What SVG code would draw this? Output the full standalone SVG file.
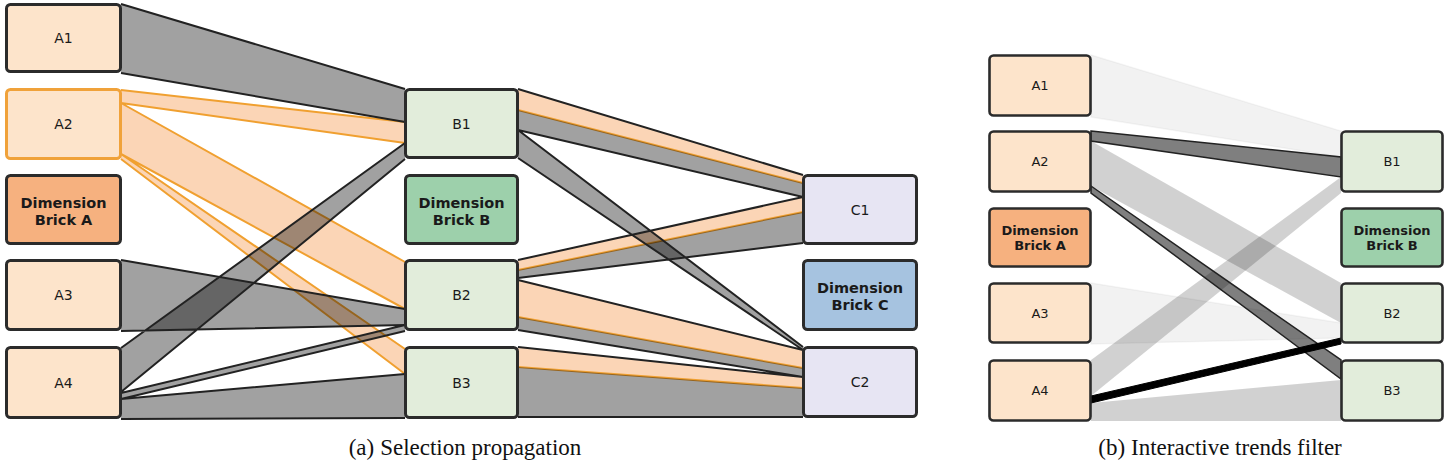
<svg xmlns="http://www.w3.org/2000/svg" width="1448" height="465" viewBox="0 0 1448 465">
<style>
.bg{fill:#ffffff}
.g{fill:#000;fill-opacity:.37;stroke:none}
.o{fill:#f7b27a;fill-opacity:.55;stroke:none}
.gl{fill:none;stroke:#222;stroke-width:2}
.ol{fill:none;stroke:#f0a030;stroke-width:2}
.bf{fill:#000;fill-opacity:.05;stroke:#000;stroke-opacity:.04;stroke-width:1.5}
.bl{fill:#000;fill-opacity:.18;stroke:none}
.bd{fill:#000;fill-opacity:.5;stroke:#222;stroke-width:1.5}
.bk{fill:#000;stroke:#000;stroke-width:1}
.n rect{stroke:#2b2b2b;stroke-width:3}
.nb rect{stroke:#2b2b2b;stroke-width:2.6}
.a rect{fill:#fde4cb}
.sel rect{stroke:#f0a23a}
.da rect{fill:#f6b17f}
.b rect{fill:#e2eddb}
.db rect{fill:#9dd0ab}
.c rect{fill:#e7e5f3}
.dc rect{fill:#a6c3e0}
.n text{font-family:"DejaVu Sans","Liberation Sans",sans-serif;font-size:14px;fill:#1a1a1a;text-anchor:middle}
.nb text{font-family:"DejaVu Sans","Liberation Sans",sans-serif;font-size:13px;fill:#1a1a1a;text-anchor:middle}
text.bold{font-weight:bold;font-size:14.5px}
.nb text.bold{font-size:13px}
.cap{font-family:"Liberation Serif","Times New Roman",serif;font-size:23px;fill:#111;text-anchor:middle}
</style>
<rect class="bg" x="0" y="0" width="1448" height="465"/>

<g id="connectors">
  <!-- panel (a): orange selected ribbons from A2 -->
  <polygon class="o" points="121,90 405,122 405,143 121,103"/>
  <polygon class="o" points="121,103 405,262 405,309 121,154"/>
  <polygon class="o" points="121,154 405,349 405,374 121,159"/>
  <!-- orange portions of B->C ribbons -->
  <polygon class="o" points="518,89 803,175 803,183 518,110"/>
  <polygon class="o" points="518,260 803,197 803,212 518,270"/>
  <polygon class="o" points="518,280 803,350 803,368 518,317"/>
  <polygon class="o" points="518,347 803,377 803,388 518,367"/>
  <path class="ol" d="M121,90 L405,122 M121,103 L405,143 M121,103 L405,262 M121,154 L405,309 M121,154 L405,349 M121,159 L405,374"/>
  <path class="ol" d="M518,110 L803,183 M518,270 L803,212 M518,317 L803,368 M518,367 L803,388"/>
  <!-- gray ribbons -->
  <polygon class="g" points="121,4 405,89 405,122 121,73"/>
  <polygon class="g" points="121,260 405,309 405,325 121,331"/>
  <polygon class="g" points="121,348 405,143 405,159 121,392"/>
  <polygon class="g" points="121,393 405,325 405,331 121,399"/>
  <polygon class="g" points="121,399 405,374 405,418 121,419"/>
  <polygon class="g" points="518,110 803,183 803,197 518,130"/>
  <polygon class="g" points="518,130 803,347 803,350 518,158"/>
  <polygon class="g" points="518,270 803,212 803,243 518,278"/>
  <polygon class="g" points="518,317 803,368 803,377 518,330"/>
  <polygon class="g" points="518,367 803,388 803,417 518,417"/>
  <path class="gl" d="M121,4 L405,89 M121,73 L405,122 M121,260 L405,309 M121,331 L405,325 M121,348 L405,143 M121,392 L405,159 M121,393 L405,325 M121,399 L405,331 M121,399 L405,374 M121,419 L405,418"/>
  <path class="gl" d="M518,89 L803,175 M518,130 L803,197 M518,130 L803,347 M518,158 L803,350 M518,260 L803,197 M518,278 L803,243 M518,280 L803,350 M518,330 L803,377 M518,347 L803,377 M518,417 L803,417"/>

  <!-- panel (b) -->
  <polygon class="bf" points="1091,55 1341,131 1341,157 1091,117"/>
  <polygon class="bf" points="1091,283 1341,323 1341,338 1091,344"/>
  <polygon class="bl" points="1091,141 1341,283 1341,323 1091,186"/>
  <polygon class="bl" points="1091,360 1341,177 1341,193 1091,396"/>
  <polygon class="bl" points="1091,403 1341,380 1341,421 1091,421"/>
  <polygon class="bd" points="1091,131 1341,157 1341,177 1091,141"/>
  <polygon class="bd" points="1091,186 1341,360 1341,379 1091,193"/>
  <polygon class="bk" points="1091,396 1341,338 1341,344 1091,403"/>
</g>

<g id="A1" class="n a"><rect x="6.5" y="4.5" width="114" height="67" rx="4"/><text x="63.5" y="43">A1</text></g>
<g id="A2" class="n a sel"><rect x="6.5" y="89.5" width="114" height="69" rx="4"/><text x="63.5" y="129">A2</text></g>
<g id="DimA" class="n da"><rect x="6.5" y="175.5" width="114" height="68" rx="4"/><text class="bold" x="63.5" y="208">Dimension</text><text class="bold" x="63.5" y="225">Brick A</text></g>
<g id="A3" class="n a"><rect x="6.5" y="260.5" width="114" height="69" rx="4"/><text x="63.5" y="300">A3</text></g>
<g id="A4" class="n a"><rect x="6.5" y="347.5" width="114" height="70" rx="4"/><text x="63.5" y="388">A4</text></g>

<g id="B1" class="n b"><rect x="405.5" y="89.5" width="112" height="68" rx="4"/><text x="461.5" y="129">B1</text></g>
<g id="DimB" class="n db"><rect x="405.5" y="175.5" width="112" height="68" rx="4"/><text class="bold" x="461.5" y="208">Dimension</text><text class="bold" x="461.5" y="225">Brick B</text></g>
<g id="B2" class="n b"><rect x="405.5" y="260.5" width="112" height="69" rx="4"/><text x="461.5" y="300">B2</text></g>
<g id="B3" class="n b"><rect x="405.5" y="347.5" width="112" height="70" rx="4"/><text x="461.5" y="388">B3</text></g>

<g id="C1" class="n c"><rect x="803.5" y="175.5" width="113" height="68" rx="4"/><text x="860" y="215">C1</text></g>
<g id="DimC" class="n dc"><rect x="803.5" y="260.5" width="113" height="69" rx="4"/><text class="bold" x="860" y="293">Dimension</text><text class="bold" x="860" y="310">Brick C</text></g>
<g id="C2" class="n c"><rect x="803.5" y="347.5" width="113" height="69" rx="4"/><text x="860" y="387">C2</text></g>

<g id="bA1" class="nb a"><rect x="989.5" y="55.5" width="101" height="60" rx="4"/><text x="1040" y="90">A1</text></g>
<g id="bA2" class="nb a"><rect x="989.5" y="131.5" width="101" height="60" rx="4"/><text x="1040" y="166">A2</text></g>
<g id="bDimA" class="nb da"><rect x="989.5" y="208.5" width="101" height="58" rx="4"/><text class="bold" x="1040" y="235">Dimension</text><text class="bold" x="1040" y="250">Brick A</text></g>
<g id="bA3" class="nb a"><rect x="989.5" y="283.5" width="101" height="59" rx="4"/><text x="1040" y="318">A3</text></g>
<g id="bA4" class="nb a"><rect x="989.5" y="360.5" width="101" height="60" rx="4"/><text x="1040" y="395">A4</text></g>

<g id="bB1" class="nb b"><rect x="1341.5" y="131.5" width="101" height="60" rx="4"/><text x="1392" y="166">B1</text></g>
<g id="bDimB" class="nb db"><rect x="1341.5" y="208.5" width="101" height="58" rx="4"/><text class="bold" x="1392" y="235">Dimension</text><text class="bold" x="1392" y="250">Brick B</text></g>
<g id="bB2" class="nb b"><rect x="1341.5" y="283.5" width="101" height="59" rx="4"/><text x="1392" y="318">B2</text></g>
<g id="bB3" class="nb b"><rect x="1341.5" y="360.5" width="101" height="60" rx="4"/><text x="1392" y="395">B3</text></g>

<text class="cap" x="465" y="455">(a)<tspan dx="6">Selection propagation</tspan></text>
<text class="cap" x="1220" y="455">(b)<tspan dx="6">Interactive trends filter</tspan></text>
</svg>
